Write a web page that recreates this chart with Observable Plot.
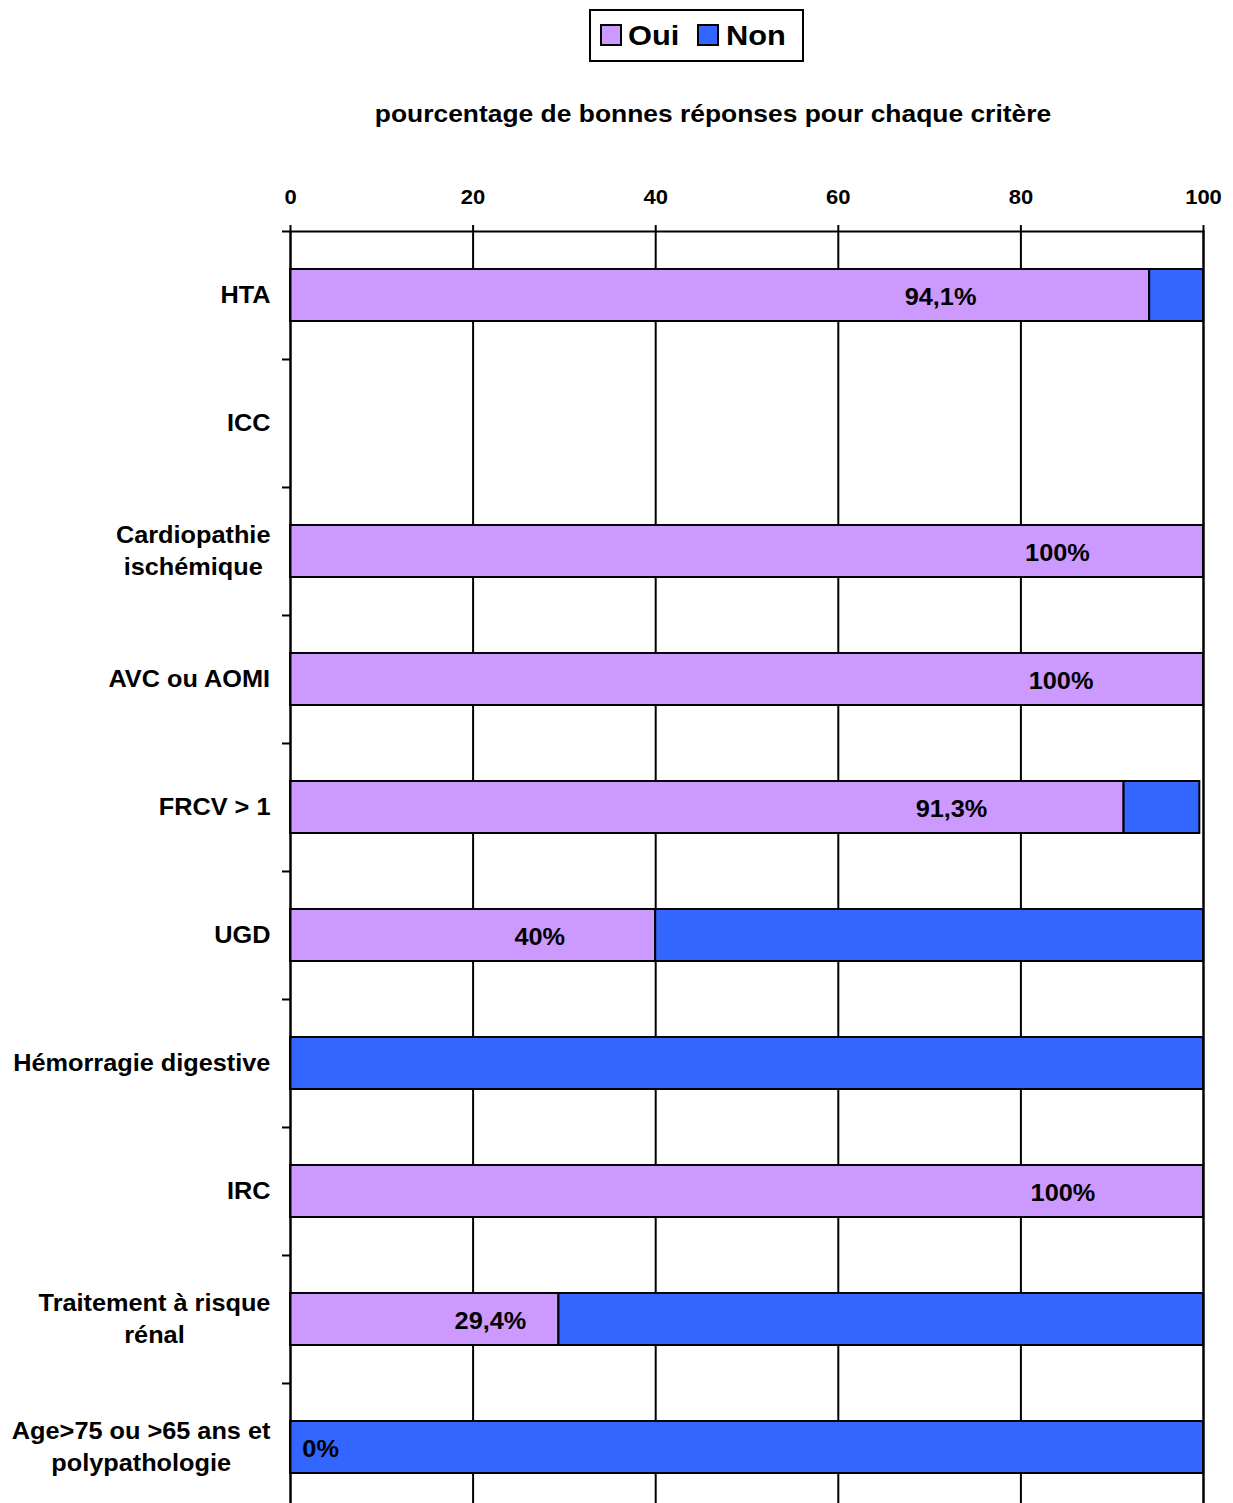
<!DOCTYPE html>
<html>
<head>
<meta charset="utf-8">
<script src="https://cdn.jsdelivr.net/npm/d3@7"></script>
<script src="https://cdn.jsdelivr.net/npm/@observablehq/plot@0.6"></script>
<style>
html, body { margin: 0; padding: 0; background: #fff; overflow: hidden; }
body { width: 1233px; height: 1503px; position: relative; font-family: "Liberation Sans", Arial, sans-serif; color: #000; }
#legend { position: absolute; left: 589px; top: 9px; width: 215px; height: 53px; box-sizing: border-box; border: 2px solid #000; background: #fff; }
.sw { position: absolute; top: 13px; width: 22px; height: 22px; box-sizing: border-box; border: 2px solid #000; }
.lt { position: absolute; top: 7px; font-size: 28px; font-weight: bold; line-height: 36px; transform: scaleX(1.1); transform-origin: left center; white-space: nowrap; }
#title { position: absolute; left: 713px; top: 99px; transform: translateX(-50%) scaleX(1.1); font-size: 24px; font-weight: bold; white-space: nowrap; line-height: 30px; }
#chart { position: absolute; left: 0; top: 140px; }
</style>
</head>
<body>
<div id="legend"></div>
<div id="title">pourcentage de bonnes réponses pour chaque critère</div>
<div id="chart"></div>
<script>
// ---- data ----
const categories = ["HTA", "ICC", "Cardiopathie ischémique", "AVC ou AOMI", "FRCV > 1", "UGD",
  "Hémorragie digestive", "IRC", "Traitement à risque rénal", "Age>75 ou >65 ans et polypathologie"];
const categoryLabels = ["HTA", "ICC", "Cardiopathie\nischémique", "AVC ou AOMI", "FRCV > 1", "UGD",
  "Hémorragie digestive", "IRC", "Traitement à risque\nrénal", "Age>75 ou >65 ans et\npolypathologie"];
const responses = ["Oui", "Non"];
const oui = [94.1, 0, 100, 100, 91.3, 40, 0, 100, 29.4, 0];
const non = [5.9, 0, 0, 0, 8.3, 60, 100, 0, 70.6, 100];
const valueLabels = ["94,1%", "", "100%", "100%", "91,3%", "40%", "", "100%", "29,4%", "0%"];
const valueLabelAt = [71.2, null, 84.0, 84.4, 72.4, 27.3, null, 84.6, 21.9, 3.3];
const xTicks = [0, 20, 40, 60, 80, 100];
const colors = ["#CC99FF", "#3366FF"];

// ---- legend ----
const legend = document.getElementById("legend");
const legendPos = [[9, 37], [106, 135]];
responses.forEach((r, i) => {
  const sw = document.createElement("div");
  sw.className = "sw"; sw.style.left = legendPos[i][0] + "px"; sw.style.background = colors[i];
  const t = document.createElement("div");
  t.className = "lt"; t.style.left = legendPos[i][1] + "px"; t.textContent = r;
  legend.appendChild(sw); legend.appendChild(t);
});

// ---- tables ----
const rows = [];
categories.forEach((c, i) => {
  rows.push({cat: c, resp: "Oui", value: oui[i]});
  rows.push({cat: c, resp: "Non", value: non[i]});
});
const bars = rows.filter(d => d.value > 0);
const valueRows = categories.map((c, i) => ({cat: c, label: valueLabels[i], at: valueLabelAt[i]}))
  .filter(d => d.label !== "");

const height = 1371, marginTop = 91, marginBottom = 0;
const step = (height - marginTop - marginBottom) / categories.length;
const textScale = 1.1;
const labelFont = 23;

const ctx = document.createElement("canvas").getContext("2d");
ctx.font = `bold ${labelFont}px "Liberation Sans", Arial, sans-serif`;
const measure = s => Math.max(...s.split("\n").map(l => ctx.measureText(l).width)) * textScale;

const labelMarks = categories.map((c, i) => Plot.text([c], {
  y: d => d,
  frameAnchor: "left",
  text: () => categoryLabels[i],
  textAnchor: "middle",
  dx: -20 - measure(categoryLabels[i]) / 2,
  dy: -3,
  fontSize: labelFont,
  fontWeight: "bold",
  lineHeight: 1.4,
  fill: "#000"
}));

const chart = Plot.plot({
  width: 1233,
  height,
  marginTop,
  marginBottom,
  marginLeft: 290,
  marginRight: 30,
  style: {fontFamily: '"Liberation Sans", Arial, sans-serif', background: "#fff", overflow: "visible"},
  x: {domain: [0, 100]},
  y: {domain: categories, padding: 0, axis: null},
  color: {domain: responses, range: colors},
  marks: [
    Plot.ruleX(xTicks, {x: d => d, stroke: "#000", strokeWidth: 2}),
    Plot.barX(bars, Plot.stackX({
      x: "value", y: "cat", fill: "resp", order: responses,
      stroke: "#000", strokeWidth: 2, insetTop: 38, insetBottom: 38
    })),
    Plot.frame({stroke: "#000", strokeWidth: 2}),
    Plot.ruleY(categories, {y: d => d, dy: -step / 2, x1: 0, x2: 0, insetLeft: -8, stroke: "#000", strokeWidth: 2}),
    Plot.axisX({anchor: "top", ticks: xTicks, tickSize: 7, tickPadding: 21, fontSize: 20, fontWeight: "bold",
      label: null, stroke: "#000", strokeWidth: 2, fill: "#000"}),
    Plot.text(valueRows, {x: "at", y: "cat", text: "label", dy: 2, fontSize: 23, fontWeight: "bold", fill: "#000"}),
    ...labelMarks
  ]
});

chart.querySelectorAll("text").forEach(t => {
  const tr = t.getAttribute("transform");
  if (tr) t.setAttribute("transform", tr + ` scale(${textScale},1)`);
});

document.getElementById("chart").appendChild(chart);
</script>
</body>
</html>
